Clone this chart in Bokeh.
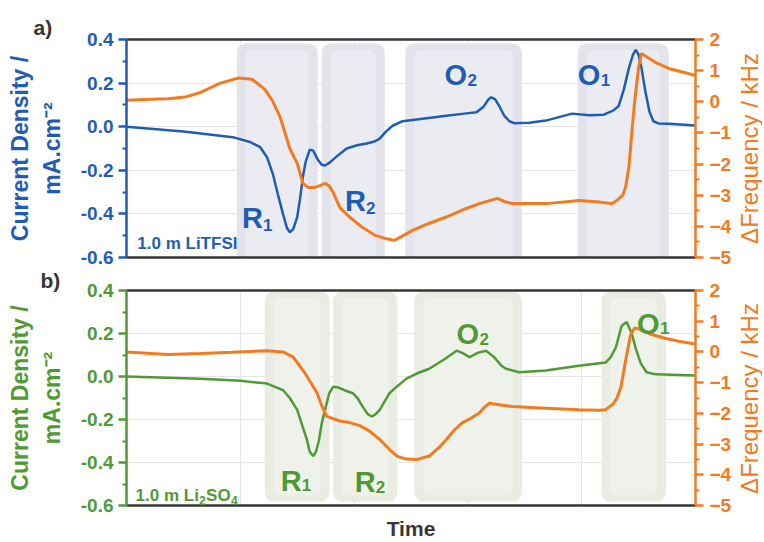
import math
from bokeh.plotting import figure
from bokeh.models import (Range1d, LinearAxis, FixedTicker, PrintfTickFormatter,
                          Label, ColumnDataSource, Title)
from bokeh.layouts import column, row
from bokeh.embed import file_html
from bokeh.resources import INLINE

BLUE = "#1f5db5"
ORANGE = "#f27a1f"
GREEN = "#4f9a33"
DARK = "#363636"
FONT = "Liberation Sans"

# ---------------- data (time in arbitrary units 0..100) ----------------
# panel a: 1.0 m LiTFSI
a_cur_t = [0, 10.0, 18.7, 21.7, 23.5, 24.7, 25.7, 26.6, 27.5, 28.2, 28.7, 29.3, 30.0, 30.5,
           31.0, 31.5, 32.2, 32.8, 33.6, 34.3, 34.9, 35.7, 37.0, 38.7, 40.5, 42.2, 43.6,
           44.5, 45.5, 46.8, 48.5, 52.4, 56.2, 59.4, 61.5, 62.7, 63.6, 64.1, 64.8, 65.5,
           66.4, 67.3, 68.1, 70.8, 73.7, 78.3, 81.3, 83.9, 85.6, 86.5, 87.4, 88.3, 89.0,
           89.5, 90.0, 90.5, 91.2, 91.9, 92.6, 93.5, 95.3, 100]
a_cur = [0.000, -0.022, -0.048, -0.070, -0.094, -0.14, -0.215, -0.31, -0.40, -0.465, -0.484,
         -0.47, -0.415, -0.33, -0.23, -0.16, -0.105, -0.11, -0.15, -0.175, -0.178, -0.165,
         -0.135, -0.100, -0.085, -0.077, -0.068, -0.055, -0.025, 0.005, 0.025, 0.038, 0.050,
         0.060, 0.066, 0.09, 0.125, 0.135, 0.125, 0.095, 0.05, 0.025, 0.016, 0.018, 0.028,
         0.060, 0.052, 0.055, 0.075, 0.095, 0.17, 0.27, 0.33, 0.352, 0.33, 0.27, 0.16, 0.07,
         0.025, 0.015, 0.013, 0.005]
a_frq_t = [0, 4.2, 7.2, 10.3, 13.0, 16.5, 19.6, 22.1, 24.3, 25.6, 27.0, 28.7, 30.0, 31.0,
           31.9, 33.1, 34.0, 34.9, 35.6, 36.3, 37.5, 39.2, 41.5, 43.6, 45.7, 47.1, 50.3,
           53.2, 56.2, 59.4, 62.0, 65.2, 66.4, 67.8, 73.7, 76.9, 79.5, 83.0, 85.3, 86.3,
           87.2, 87.7, 88.3, 88.8, 89.3, 90.0, 90.5, 91.8, 93.0, 95.3, 97.9, 100]
a_frq = [0.05, 0.08, 0.10, 0.15, 0.30, 0.60, 0.76, 0.72, 0.40, 0.05, -0.49, -1.50, -1.98,
         -2.62, -2.75, -2.75, -2.69, -2.62, -2.70, -2.90, -3.40, -3.70, -4.04, -4.28, -4.40,
         -4.45, -4.13, -3.90, -3.70, -3.45, -3.27, -3.10, -3.20, -3.27, -3.27, -3.22, -3.17,
         -3.22, -3.27, -3.15, -3.00, -2.75, -2.10, -1.00, 0.00, 1.10, 1.55, 1.40, 1.26, 1.07,
         0.95, 0.84]

# panel b: 1.0 m Li2SO4
b_cur_t = [0, 13.0, 20.0, 24.7, 27.5, 28.7, 30.0, 30.8, 31.7, 32.2, 32.8, 33.3, 33.8, 34.3,
           34.9, 35.6, 36.3, 37.1, 38.4, 39.8, 40.6, 41.5, 42.4, 43.1, 43.8, 44.5, 45.4,
           46.2, 47.6, 49.2, 51.1, 53.2, 55.9, 58.0, 59.0, 60.3, 61.7, 63.2, 64.6, 65.9,
           66.7, 69.0, 73.7, 79.5, 84.2, 85.1, 86.0, 87.0, 87.9, 88.8, 89.5, 90.4, 91.4,
           93.0, 100]
b_cur = [0.000, -0.010, -0.020, -0.033, -0.063, -0.10, -0.155, -0.22, -0.293, -0.35, -0.37,
         -0.35, -0.30, -0.22, -0.155, -0.08, -0.048, -0.05, -0.065, -0.078, -0.10, -0.14,
         -0.175, -0.186, -0.175, -0.155, -0.115, -0.078, -0.045, -0.010, 0.015, 0.036, 0.08,
         0.120, 0.11, 0.090, 0.11, 0.120, 0.09, 0.05, 0.036, 0.020, 0.028, 0.050, 0.065, 0.09,
         0.135, 0.235, 0.254, 0.20, 0.13, 0.060, 0.020, 0.010, 0.005]
b_frq_t = [0, 7.2, 13.0, 18.7, 24.7, 27.5, 29.3, 31.4, 33.5, 34.3, 35.2, 37.5, 39.2, 41.0,
           42.7, 44.5, 46.2, 47.6, 49.2, 51.1, 53.2, 55.0, 56.2, 57.6, 59.0, 60.6, 62.0, 62.9,
           63.8, 65.5, 67.8, 73.7, 79.5, 83.0, 84.2, 85.5, 86.2, 86.9, 87.7, 88.6, 89.3, 90.0,
           91.8, 94.1, 97.0, 100]
b_frq = [0.00, -0.08, -0.05, -0.01, 0.04, 0.00, -0.17, -0.70, -1.34, -1.75, -2.10, -2.25,
         -2.30, -2.40, -2.58, -2.85, -3.17, -3.40, -3.49, -3.50, -3.39, -3.10, -2.85, -2.55,
         -2.31, -2.15, -1.99, -1.80, -1.67, -1.72, -1.78, -1.83, -1.88, -1.90, -1.88, -1.70,
         -1.50, -1.14, -0.30, 0.57, 0.78, 0.75, 0.60, 0.47, 0.35, 0.26]

# highlighted regions (start, end in time units)
a_regions_start = [19.4, 34.3, 49.0, 79.3]
a_regions_end = [33.6, 45.4, 69.5, 95.3]
b_regions_start = [24.3, 36.3, 50.6, 83.5]
b_regions_end = [35.7, 47.6, 69.5, 94.8]

cur_ticks = [-0.6, -0.4, -0.2, 0.0, 0.2, 0.4]
cur_minor = [-0.5, -0.3, -0.1, 0.1, 0.3]
frq_ticks = [-5, -4, -3, -2, -1, 0, 1, 2]
frq_minor = [-4.5, -3.5, -2.5, -1.5, -0.5, 0.5, 1.5]

W = 734      # main panels width
WR = 28      # strip holding the right-hand axis title
LEFT = 126
RIGHT = 37
HA, HB = 268, 274


def make_panel(height, top, bottom, color, box_color, box_inner, box_top, box_bottom,
               cur_t, cur, frq_t, frq, rs, re, xlabel, letter, letter_offset, letter_standoff):
    p = figure(width=W, height=height, x_range=Range1d(0, 100), y_range=Range1d(-0.6, 0.4),
               output_backend="svg", toolbar_location=None,
               x_axis_location=None, y_axis_location=None,
               min_border_left=LEFT, min_border_right=RIGHT,
               min_border_top=top, min_border_bottom=bottom)
    p.extra_y_ranges = {"f": Range1d(-5, 2)}
    p.outline_line_color = None
    p.background_fill_color = "white"
    p.border_fill_color = "white"

    src = ColumnDataSource(dict(l=rs, r=re, t=[box_top] * len(rs), b=[box_bottom] * len(rs)))
    p.quad(left="l", right="r", top="t", bottom="b", source=src,
           fill_color=box_color, fill_alpha=1.0, line_color=None, border_radius=9)
    # lighter glassy centre of each box
    inner = ColumnDataSource(dict(l=[v + 1.6 for v in rs], r=[v - 1.6 for v in re],
                                  t=[box_top - 0.03] * len(rs), b=[box_bottom + 0.03] * len(rs)))
    p.quad(left="l", right="r", top="t", bottom="b", source=inner,
           fill_color=box_inner, fill_alpha=1.0, line_color=None, border_radius=6)

    p.line(cur_t, cur, line_color=color, line_width=2.5)
    p.line(frq_t, frq, line_color=ORANGE, line_width=3, y_range_name="f")

    # left axis (with ticks)
    ax = LinearAxis(ticker=FixedTicker(ticks=cur_ticks, minor_ticks=cur_minor),
                    formatter=PrintfTickFormatter(format="%.1f"),
                    axis_label="mA.cm\u207b\u00b2")
    ax.axis_line_color = color
    ax.axis_line_width = 2.5
    ax.major_tick_line_color = color
    ax.major_tick_line_width = 2.5
    ax.minor_tick_line_color = color
    ax.minor_tick_line_width = 2
    ax.major_tick_out = 8
    ax.major_tick_in = 0
    ax.minor_tick_out = 4
    ax.minor_tick_in = 0
    ax.major_label_standoff = 5
    ax.major_label_text_font = FONT
    ax.major_label_text_font_size = "19px"
    ax.major_label_text_font_style = "bold"
    ax.major_label_text_color = color
    ax.axis_label_text_font = FONT
    ax.axis_label_text_font_size = "23px"
    ax.axis_label_text_font_style = "bold"
    ax.axis_label_text_color = color
    ax.axis_label_standoff = 13
    p.add_layout(ax, "left")

    ax2 = LinearAxis(ticker=FixedTicker(ticks=[]), axis_label="Current Density /")
    ax2.axis_line_color = None
    ax2.major_tick_line_color = None
    ax2.minor_tick_line_color = None
    ax2.major_tick_out = 0
    ax2.minor_tick_out = 0
    ax2.major_label_standoff = 0
    ax2.axis_label_text_font = FONT
    ax2.axis_label_text_font_size = "23px"
    ax2.axis_label_text_font_style = "bold"
    ax2.axis_label_text_color = color
    ax2.axis_label_standoff = 3
    p.add_layout(ax2, "left")

    # right axis (title is drawn in a separate strip so that it reads bottom-to-top)
    ar = LinearAxis(y_range_name="f", ticker=FixedTicker(ticks=frq_ticks, minor_ticks=frq_minor))
    ar.axis_line_color = ORANGE
    ar.axis_line_width = 2.5
    ar.major_tick_line_color = ORANGE
    ar.major_tick_line_width = 2.5
    ar.minor_tick_line_color = ORANGE
    ar.minor_tick_line_width = 2
    ar.major_tick_out = 8
    ar.major_tick_in = 0
    ar.minor_tick_out = 4
    ar.minor_tick_in = 0
    ar.major_label_standoff = 6
    ar.major_label_text_font = FONT
    ar.major_label_text_font_size = "19px"
    ar.major_label_text_font_style = "bold"
    ar.major_label_text_color = ORANGE
    p.add_layout(ar, "right")

    # top and bottom frame lines
    for side in ("above", "below"):
        a = LinearAxis(ticker=FixedTicker(ticks=[]))
        a.axis_line_color = DARK
        a.axis_line_width = 2.5
        a.major_tick_out = 0
        a.minor_tick_out = 0
        a.major_label_standoff = 0
        if side == "below" and xlabel:
            a.axis_label = xlabel
            a.axis_label_text_font = FONT
            a.axis_label_text_font_size = "21px"
            a.axis_label_text_font_style = "bold"
            a.axis_label_text_color = DARK
            a.axis_label_standoff = 11
        p.add_layout(a, side)

    t = Title(text=letter, align="left", offset=letter_offset, standoff=letter_standoff,
              text_font=FONT, text_font_size="21px", text_font_style="bold",
              text_color=DARK)
    p.add_layout(t, "above")
    return p


def right_title(height, center_from_top):
    r = figure(width=WR, height=height, x_range=Range1d(0, WR), y_range=Range1d(0, height),
               output_backend="svg", toolbar_location=None,
               x_axis_location=None, y_axis_location=None, min_border=0)
    r.outline_line_color = None
    r.grid.visible = False
    r.add_layout(Label(x=WR / 2 + 1, y=height - center_from_top, text="\u0394Frequency / kHz",
                       angle=math.pi / 2, text_align="center", text_baseline="middle",
                       text_font=FONT, text_font_size="24px", text_color=ORANGE))
    return r


def lab(p, x, y, text, color, size, dx=0):
    p.add_layout(Label(x=x, y=y, x_offset=dx, text=text,
                       text_color=color, text_font=FONT, text_font_size=size,
                       text_font_style="bold", text_baseline="alphabetic", text_align="left"))


fa = make_panel(HA, 39, HA - 39 - 218, BLUE, "#e3e3ec", "#ebebf2", 0.382, -0.7,
                a_cur_t, a_cur, a_frq_t, a_frq, a_regions_start, a_regions_end, None,
                "a)", -93, 2)
fb = make_panel(HB, 289 - HA, HB - (289 - HA) - 218, GREEN, "#e8ece3", "#eff2eb", 0.395, -0.582,
                b_cur_t, b_cur, b_frq_t, b_frq, b_regions_start, b_regions_end, "Time",
                "b)", -86, -3)

# peak labels
BIG, SUB = "29px", "17px"
for p, col, items in (
    (fa, BLUE, [("R", "1", 20.3, -0.421, -0.449), ("R", "2", 38.4, -0.343, -0.371),
                ("O", "2", 55.9, 0.235, 0.212), ("O", "1", 79.3, 0.235, 0.212)]),
    (fb, GREEN, [("R", "1", 27.1, -0.485, -0.504), ("R", "2", 40.1, -0.49, -0.513),
                 ("O", "2", 58.0, 0.198, 0.175), ("O", "1", 89.7, 0.244, 0.226)]),
):
    for main, sub, x, y, ys in items:
        lab(p, x, y, main, col, BIG)
        lab(p, x, ys, sub, col, SUB, dx=21 if main == "R" else 23)

lab(fa, 1.9, -0.536, "1.0 m LiTFSI", BLUE, "17px")
lab(fb, 1.6, -0.554, "1.0 m Li", GREEN, "17px")
lab(fb, 1.6, -0.577, "2", GREEN, "12px", dx=63.5)
lab(fb, 1.6, -0.554, "SO", GREEN, "17px", dx=70.5)
lab(fb, 1.6, -0.577, "4", GREEN, "12px", dx=95.5)

ra = right_title(HA, 148)
rb = right_title(HB, 398 - HA)

layout = row(column(fa, fb), column(ra, rb))
open("out.html", "w").write(file_html(layout, INLINE))
